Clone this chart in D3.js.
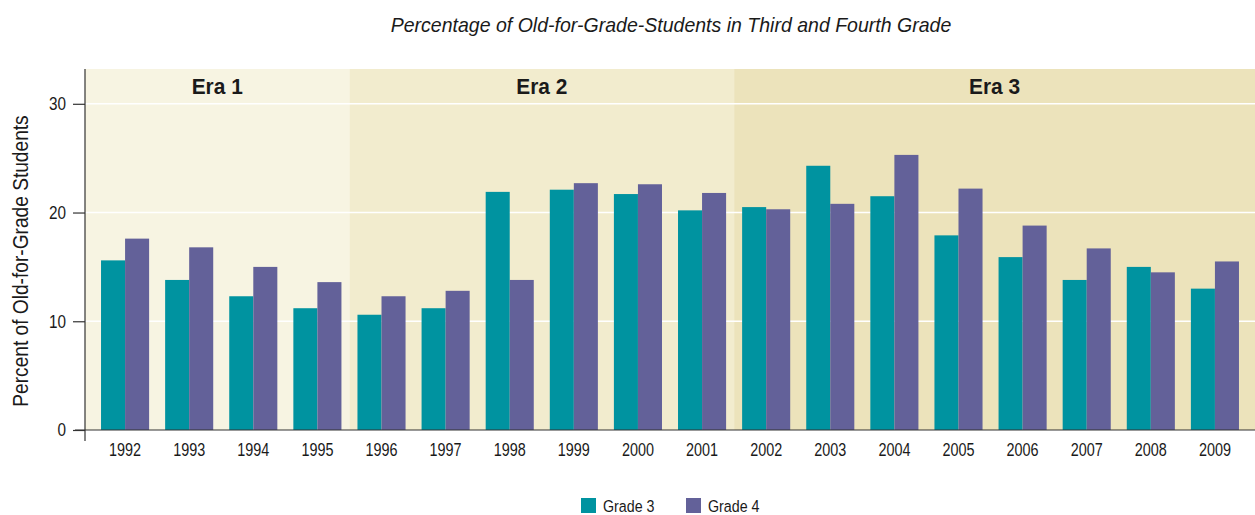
<!DOCTYPE html>
<html><head><meta charset="utf-8">
<script src="https://cdn.jsdelivr.net/npm/d3@7"></script>
<style>
body{margin:0;background:#fff;}
text{font-family:"Liberation Sans","Arial",sans-serif;fill:#1a1a1a;}
</style></head>
<body><svg id="c" width="1255" height="515"></svg>
<script>
const years = ["1992","1993","1994","1995","1996","1997","1998","1999","2000","2001","2002","2003","2004","2005","2006","2007","2008","2009"];
const grade3 = [15.6,13.8,12.3,11.2,10.6,11.2,21.9,22.1,21.7,20.2,20.5,24.3,21.5,17.9,15.9,13.8,15.0,13.0];
const grade4 = [17.6,16.8,15.0,13.6,12.3,12.8,13.8,22.7,22.6,21.8,20.3,20.8,25.3,22.2,18.8,16.7,14.5,15.5];
const seriesNames = ["Grade 3","Grade 4"];
const eras = [{name:"Era 1",from:"1992",to:"1995"},{name:"Era 2",from:"1996",to:"2001"},{name:"Era 3",from:"2002",to:"2009"}];
const yTicks = [0,10,20,30];
const colors = ["#0093a0","#636199"];
const eraColors = ["#f7f4e2","#f2ecce","#ece3bb"];

(function(){
const svg = d3.select("#c");
const mLeft = 85, mRight = 1255, mTop = 69, mBottom = 430;
const x = d3.scaleBand().domain(years).range([mLeft, mRight]).paddingInner(0.25).paddingOuter(0.25);
const xs = d3.scaleBand().domain(seriesNames).range([0, x.bandwidth()]);
const y = d3.scaleLinear().domain([0, 33.2]).range([mBottom, mTop]);
const gap = x.step() - x.bandwidth();

// condensed text helper
function ctext(px, py, str, size, sx, opts) {
  opts = opts || {};
  const t = svg.append("text")
    .attr("transform", `translate(${px},${py})${opts.rotate ? " rotate(" + opts.rotate + ")" : ""} scale(${sx},1)`)
    .attr("text-anchor", opts.anchor || "start")
    .style("font-size", size + "px").text(str);
  if (opts.bold) t.style("font-weight", "bold");
  if (opts.italic) t.style("font-style", "italic");
  return t;
}

// era bands
eras.forEach((e, i) => {
  const x0 = i === 0 ? mLeft : x(e.from) - gap / 2;
  const x1 = i === eras.length - 1 ? mRight : x(e.to) + x.bandwidth() + gap / 2;
  svg.append("rect").attr("x", x0).attr("y", mTop).attr("width", x1 - x0).attr("height", mBottom - mTop).attr("fill", eraColors[i]);
});

// gridlines
svg.append("g").selectAll("line").data(yTicks.filter(d => d > 0)).join("line")
  .attr("x1", mLeft).attr("x2", mRight).attr("y1", d => y(d)).attr("y2", d => y(d))
  .attr("stroke", "#fff").attr("stroke-width", 1.5);

eras.forEach((e, i) => {
  const x0 = i === 0 ? mLeft : x(e.from) - gap / 2;
  const x1 = i === eras.length - 1 ? mRight : x(e.to) + x.bandwidth() + gap / 2;
  ctext((x0 + x1) / 2, 94, e.name, 22, 0.95, {anchor: "middle", bold: true});
});

// bars
const data = years.map((yr, i) => ({year: yr, vals: [grade3[i], grade4[i]]}));
const g = svg.append("g").selectAll("g").data(data).join("g").attr("transform", d => `translate(${x(d.year)},0)`);
g.selectAll("rect").data(d => d.vals.map((v, j) => ({s: seriesNames[j], v, j}))).join("rect")
  .attr("x", d => xs(d.s)).attr("width", xs.bandwidth()).attr("y", d => y(d.v)).attr("height", d => y(0) - y(d.v))
  .attr("fill", d => colors[d.j]);

// y axis
const ySx = 0.85, yTick = 12, yPad = 7;
const ya = d3.axisLeft(y).tickValues(yTicks).tickSize(yTick).tickPadding(yPad);
const yg = svg.append("g").attr("transform", `translate(${mLeft},0)`).call(ya);
yg.select(".domain").remove();
yg.selectAll("line").attr("stroke", "#333").attr("stroke-width", 1.2);
yg.selectAll("text").style("font-size", "18px").style("font-family", "'Liberation Sans',sans-serif").attr("fill", "#1a1a1a")
  .attr("x", -(yTick + yPad) / ySx).attr("transform", `scale(${ySx},1)`);
svg.append("line").attr("x1", mLeft).attr("x2", mLeft).attr("y1", mTop).attr("y2", 441).attr("stroke", "#333").attr("stroke-width", 1.2);

// x axis
const xa = d3.axisBottom(x).tickSize(0).tickPadding(13);
const xg = svg.append("g").attr("transform", `translate(0,${mBottom})`).call(xa);
xg.select(".domain").remove();
xg.selectAll("text").style("font-size", "18px").style("font-family", "'Liberation Sans',sans-serif").attr("fill", "#1a1a1a")
  .attr("transform", "scale(0.8,1)");
svg.append("line").attr("x1", 75).attr("x2", mRight).attr("y1", mBottom).attr("y2", mBottom).attr("stroke", "#333").attr("stroke-width", 1.2);

// y title
ctext(28, 261, "Percent of Old-for-Grade Students", 22, 0.87, {anchor: "middle", rotate: -90});

// title
ctext(671, 32, "Percentage of Old-for-Grade-Students in Third and Fourth Grade", 21, 0.93, {anchor: "middle", italic: true});

// legend
const legX = [581, 686];
seriesNames.forEach((s, i) => {
  svg.append("rect").attr("x", legX[i]).attr("y", 498).attr("width", 15).attr("height", 15).attr("fill", colors[i]);
  ctext(legX[i] + 22, 512, s, 17, 0.84);
});
})();
</script></body></html>
